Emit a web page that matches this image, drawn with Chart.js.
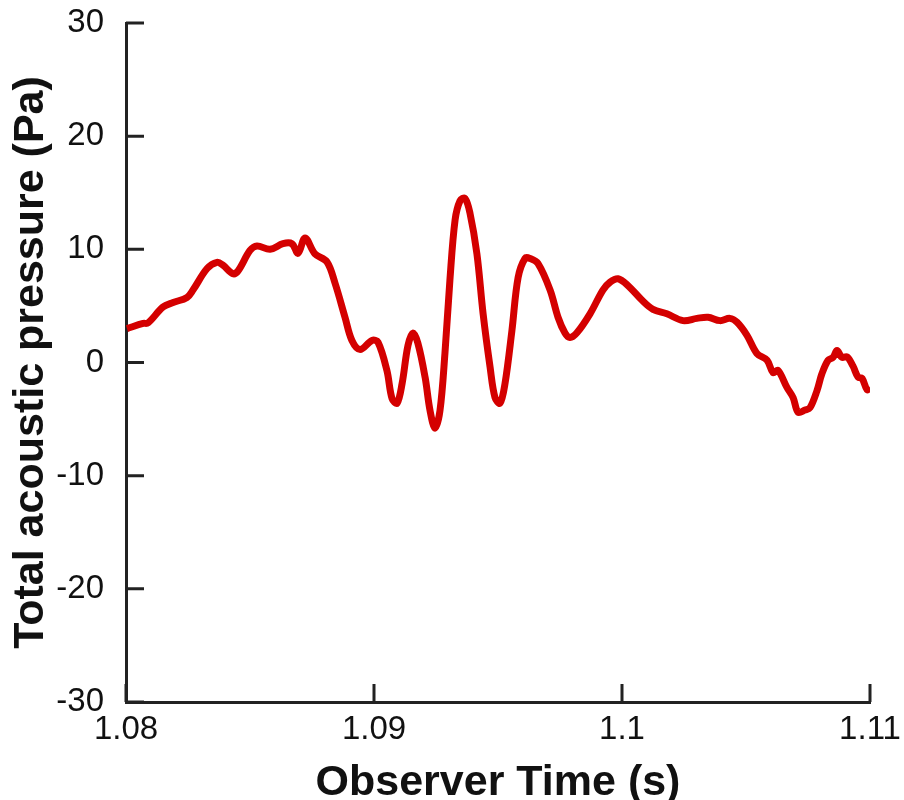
<!DOCTYPE html>
<html>
<head>
<meta charset="utf-8">
<script src="https://cdn.jsdelivr.net/npm/chart.js@4"></script>
<style>
  html, body { margin: 0; padding: 0; background: #fff; }
  #wrap { width: 904px; height: 800px; }
</style>
</head>
<body>
<div id="wrap"><canvas id="chart" width="904" height="800"></canvas></div>
<script>
// observer time (s)
const times = [
  1.08004, 1.08069, 1.08089, 1.08149, 1.08190, 1.08246, 1.08270, 1.08327, 1.08367, 1.08391,
  1.08431, 1.08452, 1.08500, 1.08528, 1.08581, 1.08633, 1.08669, 1.08694, 1.08722, 1.08762,
  1.08810, 1.08843, 1.08883, 1.08911, 1.08944, 1.08992, 1.09016, 1.09052, 1.09073, 1.09093,
  1.09113, 1.09137, 1.09157, 1.09177, 1.09206, 1.09226, 1.09246, 1.09266, 1.09286, 1.09306,
  1.09327, 1.09347, 1.09367, 1.09387, 1.09415, 1.09440, 1.09468, 1.09488, 1.09508, 1.09528,
  1.09556, 1.09581, 1.09609, 1.09629, 1.09661, 1.09710, 1.09742, 1.09770, 1.09790, 1.09819,
  1.09871, 1.09923, 1.09952, 1.09984, 1.10024, 1.10081, 1.10125, 1.10181, 1.10246, 1.10302,
  1.10347, 1.10395, 1.10435, 1.10464, 1.10504, 1.10544, 1.10585, 1.10609, 1.10629, 1.10665,
  1.10690, 1.10710, 1.10738, 1.10758, 1.10786, 1.10806, 1.10831, 1.10851, 1.10867, 1.10887,
  1.10907, 1.10931, 1.10952, 1.10968, 1.10988, 1.11000
];
// total acoustic pressure (Pa)
const pressure = [
  3.0, 3.45, 3.5, 4.9, 5.3, 5.75, 6.4, 8.3, 8.85, 8.6,
  7.85, 8.1, 9.9, 10.3, 10.0, 10.5, 10.5, 9.65, 11.0, 9.6,
  8.9, 7.0, 4.0, 1.95, 1.15, 1.95, 1.8, -0.7, -3.2, -3.6,
  -1.9, 1.5, 2.6, 1.7, -1.3, -4.25, -5.8, -4.25, 0.8, 7.25,
  12.6, 14.3, 14.5, 13.2, 9.6, 4.3, -0.4, -3.1, -3.6, -1.9,
  2.8, 7.5, 9.2, 9.2, 8.75, 6.4, 4.0, 2.6, 2.2, 2.65,
  4.3, 6.4, 7.1, 7.4, 6.8, 5.5, 4.7, 4.3, 3.7, 3.9,
  4.0, 3.7, 3.9, 3.55, 2.4, 0.8, 0.2, -0.9, -0.7, -2.2,
  -3.1, -4.4, -4.2, -4.0, -2.5, -1.0, 0.2, 0.45, 1.05, 0.45,
  0.5, -0.3, -1.3, -1.4, -2.4, -2.2
];
const xTicks = [1.08, 1.09, 1.1, 1.11];
const yTicks = [-30, -20, -10, 0, 10, 20, 30];

const axisColor = '#222222';
const sans = "'Liberation Sans', Arial, sans-serif";

// inward tick marks, drawn with the scales' own pixel mapping
const innerTicks = {
  id: 'innerTicks',
  afterDraw(chart) {
    const ctx = chart.ctx;
    const xs = chart.scales.x, ys = chart.scales.y;
    const len = 18;
    ctx.save();
    ctx.strokeStyle = axisColor;
    ctx.lineWidth = 3;
    ctx.beginPath();
    xTicks.forEach(v => {
      const px = xs.getPixelForValue(v);
      ctx.moveTo(px, ys.bottom);
      ctx.lineTo(px, ys.bottom - len);
    });
    yTicks.forEach(v => {
      const py = ys.getPixelForValue(v);
      ctx.moveTo(xs.left, py);
      ctx.lineTo(xs.left + len, py);
    });
    ctx.stroke();
    ctx.restore();
  }
};

new Chart(document.getElementById('chart'), {
  type: 'line',
  data: {
    datasets: [{
      data: times.map((t, i) => ({ x: t, y: pressure[i] })),
      borderColor: '#d40000',
      borderWidth: 7,
      pointRadius: 0,
      tension: 0.35,
      fill: false
    }]
  },
  options: {
    responsive: false,
    animation: false,
    layout: { padding: { top: 23, right: 34, left: 0, bottom: 0 } },
    plugins: { legend: { display: false }, tooltip: { enabled: false } },
    scales: {
      x: {
        type: 'linear',
        min: 1.08,
        max: 1.11,
        afterBuildTicks: s => { s.ticks = xTicks.map(v => ({ value: v })); },
        afterFit: s => { s.height = 98; s.paddingLeft = 0; s.paddingRight = 0; },
        grid: { display: false, drawTicks: false },
        border: { display: true, color: axisColor, width: 3 },
        ticks: {
          color: '#111',
          font: { family: sans, size: 33 },
          padding: 8,
          maxRotation: 0,
          callback: v => String(v)
        },
        title: {
          display: true,
          text: 'Observer Time (s)',
          color: '#111',
          font: { family: sans, size: 43, weight: 'bold' },
          padding: { top: 0, bottom: -9 }
        }
      },
      y: {
        min: -30,
        max: 30,
        afterBuildTicks: s => { s.ticks = yTicks.map(v => ({ value: v })); },
        afterFit: s => { s.width = 126; s.paddingTop = 0; s.paddingBottom = 0; },
        grid: { display: false, drawTicks: false },
        border: { display: true, color: axisColor, width: 3 },
        ticks: {
          color: '#111',
          font: { family: sans, size: 33 },
          padding: 22
        },
        title: {
          display: true,
          text: 'Total acoustic pressure (Pa)',
          color: '#111',
          font: { family: sans, size: 43, weight: 'bold' },
          padding: { top: 5, bottom: 0 }
        }
      }
    }
  },
  plugins: [innerTicks]
});
</script>
</body>
</html>
